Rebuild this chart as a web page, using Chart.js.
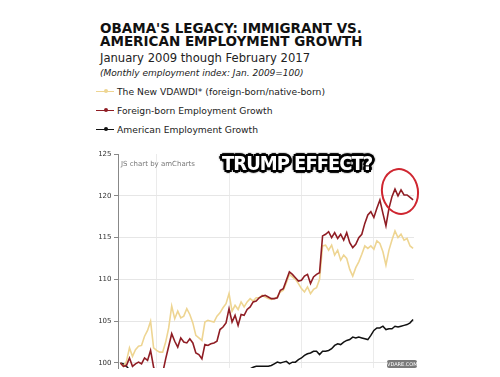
<!DOCTYPE html>
<html>
<head>
<meta charset="utf-8">
<script src="https://cdn.jsdelivr.net/npm/chart.js@4.4.1/dist/chart.umd.min.js"></script>
<style>
html, body { margin:0; padding:0; width:500px; height:377px; overflow:hidden; background:#fff; font-family:"DejaVu Sans", Verdana, sans-serif; }
.t { position:absolute; white-space:nowrap; line-height:1; }
#title1, #title2 { left:100px; font-size:13.5px; font-weight:bold; color:#111; }
#title1 { top:22px; }
#title2 { top:35px; }
#subtitle { left:100px; top:52.5px; font-size:11.6px; color:#222; }
#note { left:100px; top:68.5px; font-size:9px; font-style:italic; color:#222; }
#legend .item { position:absolute; left:96px; height:12px; }
#legend .mark { position:absolute; left:0; top:5px; width:18px; height:1.5px; }
#legend .dot { position:absolute; left:7.5px; top:3.5px; width:4px; height:4px; border-radius:50%; }
#legend .lab { position:absolute; left:21px; top:0; font-size:9.2px; color:#222; white-space:nowrap; line-height:12px; }
#chartWrap { position:absolute; left:0; top:140px; width:500px; height:260px; }
#credit { left:121px; top:161px; font-size:7px; color:#777; }
#trump { left:222px; top:153px; font-family:"DejaVu Sans Condensed", "DejaVu Sans", sans-serif; font-weight:bold; font-size:20px; color:#fff; letter-spacing:-1px;
  text-shadow: 2px 0 0 #000, -2px 0 0 #000, 0 2px 0 #000, 0 -2px 0 #000, 2px 2px 0 #000, -2px -2px 0 #000, 2px -2px 0 #000, -2px 2px 0 #000,
  3px 0 1px #000, -3px 0 1px #000, 0 3px 1px #000, 0 -3px 1px #000, 0 0 4px #333; }
#circle { position:absolute; left:381px; top:168px; width:34px; height:43px; border:2px solid #cf2630; border-radius:50%; transform:rotate(-8deg); }
#mark { position:absolute; left:387px; top:360px; width:30px; height:8px; background:#7a7a7a; border-radius:2px; color:#fff; font-size:5px; line-height:8px; text-align:center; }
</style>
</head>
<body>
<div class="t" id="title1">OBAMA'S LEGACY: IMMIGRANT VS.</div>
<div class="t" id="title2">AMERICAN EMPLOYMENT GROWTH</div>
<div class="t" id="subtitle">January 2009 though February 2017</div>
<div class="t" id="note">(Monthly employment index: Jan. 2009=100)</div>
<div id="legend"></div>
<div id="chartWrap"><canvas id="chart" width="500" height="260"></canvas></div>
<div class="t" id="credit">JS chart by amCharts</div>
<div class="t" id="trump">TRUMP EFFECT?</div>
<div id="circle"></div>
<div id="mark">VDARE.COM</div>
<script>
// monthly index, Jan 2009 .. Feb 2017 (Jan 2009 = 100)
var vdawdi = [
 100.0, 99.6, 100.2, 101.8, 100.8, 101.6, 102.0, 102.1, 103.2, 103.9, 105.0, 101.8,
 101.5, 101.3, 101.3, 102.5, 104.2, 106.8, 105.3, 106.2, 105.4, 105.6, 106.5, 105.8,
 104.8, 103.3, 103.0, 102.7, 104.9, 105.1, 105.0, 104.9, 105.6, 106.0, 106.6, 107.1,
 108.3, 106.2, 106.9, 106.4, 107.3, 106.7, 107.3, 107.7, 107.4, 107.8, 107.8, 108.1,
 107.9, 107.7, 107.6, 107.7, 107.9, 108.5, 108.7, 109.6, 110.6, 110.3, 110.0, 109.5,
 108.9, 108.5, 109.1, 108.3, 108.8, 109.0, 110.0, 114.0, 114.1, 113.5, 114.1, 112.9,
 113.5, 112.3, 112.9, 112.5, 111.2, 110.4, 111.4, 112.1, 113.0, 114.0, 113.7, 114.0,
 113.6, 114.6, 114.3, 113.3, 111.7, 113.5, 114.7, 115.8, 115.0, 115.4, 114.7, 114.9,
 114.0, 113.7
];
var foreignBorn = [
 100.0, 99.6, 99.7, 100.6, 99.6, 99.9, 100.1, 99.9, 100.6, 100.3, 101.5, 99.5,
 98.6, 98.2, 98.8, 100.5, 102.0, 103.5, 102.6, 101.9, 103.0, 102.5, 102.4, 102.9,
 102.4, 101.2, 101.0, 100.5, 102.2, 102.1, 102.3, 102.4, 102.6, 104.0, 104.3, 104.8,
 106.5, 104.9, 105.7, 104.5, 105.8, 105.7, 106.4, 106.7, 107.3, 107.4, 107.8, 108.0,
 108.1, 107.9, 107.7, 107.7, 107.8, 108.7, 108.9, 109.9, 110.9, 110.6, 110.2, 109.8,
 109.9, 110.4, 110.6, 109.5, 110.3, 110.6, 110.8, 115.2, 115.4, 115.7, 115.0, 115.6,
 114.9, 115.4, 114.7, 115.6, 114.4, 113.8, 114.2, 115.0, 115.4, 116.7, 117.7, 118.1,
 117.4, 118.5, 119.5, 117.9, 116.4, 118.5, 119.9, 120.8, 120.0, 120.7, 120.1, 120.1,
 119.8, 119.5
];
var american = [
 100.0, 99.9, 99.6, 99.2, 98.9, 98.6, 98.3, 98.1, 97.8, 97.7, 97.6, 97.3,
 97.0, 96.9, 96.9, 97.2, 97.4, 97.3, 97.2, 97.3, 97.3, 97.4, 97.2, 97.1,
 97.0, 97.1, 97.3, 97.4, 97.5, 97.6, 97.5, 97.6, 97.8, 98.0, 98.1, 98.0,
 98.3, 98.4, 98.6, 98.7, 98.8, 99.0, 99.1, 99.3, 99.5, 99.6, 99.6, 99.6,
 99.6, 99.6, 99.7, 99.9, 100.1, 100.0, 100.1, 100.2, 99.9, 100.1, 100.1, 100.4,
 100.6, 100.9, 101.1, 101.2, 101.4, 101.4, 101.0, 101.4, 101.4, 101.5, 101.7, 102.1,
 102.3, 102.2, 102.5, 102.7, 102.8, 103.1, 103.0, 103.1, 103.0, 102.9, 102.8, 103.3,
 103.9, 104.2, 104.2, 104.4, 104.0, 104.1, 104.1, 104.4, 104.3, 104.4, 104.5, 104.6,
 104.8, 105.2
];

var seriesNames = ['The New VDAWDI* (foreign-born/native-born)', 'Foreign-born Employment Growth', 'American Employment Growth'];
var seriesColors = ['#eed592', '#8f1d24', '#111111'];

var xTickMonths = [12, 36, 60, 84];
var xTickLabels = ['2010', '2012', '2014', '2016'];
var yTicks = [100, 105, 110, 115, 120, 125];

// legend
var legend = document.getElementById('legend');
var legendTops = [85.5, 104.8, 123.8];
seriesNames.forEach(function (name, i) {
  var item = document.createElement('div');
  item.className = 'item';
  item.style.top = legendTops[i] + 'px';
  item.innerHTML = '<div class="mark" style="background:' + seriesColors[i] + '"></div>' +
    '<div class="dot" style="background:' + seriesColors[i] + '"></div>' +
    '<div class="lab">' + name + '</div>';
  legend.appendChild(item);
});

function toPoints(arr) {
  return arr.map(function (v, i) { return { x: i, y: v }; });
}

var chart = new Chart(document.getElementById('chart'), {
  type: 'line',
  data: {
    datasets: [
      { label: seriesNames[1], data: toPoints(foreignBorn), borderColor: seriesColors[1], borderWidth: 1.6, order: 0 },
      { label: seriesNames[0], data: toPoints(vdawdi), borderColor: seriesColors[0], borderWidth: 1.6, order: 1 },
      { label: seriesNames[2], data: toPoints(american), borderColor: seriesColors[2], borderWidth: 1.5, order: 2 }
    ]
  },
  options: {
    responsive: false,
    animation: false,
    devicePixelRatio: 1,
    elements: { point: { radius: 0 }, line: { tension: 0 } },
    layout: { padding: { top: 14, right: 86, left: 0, bottom: 0 } },
    plugins: { legend: { display: false }, tooltip: { enabled: false } },
    scales: {
      x: {
        type: 'linear',
        min: -0.8,
        max: 97.3,
        afterBuildTicks: function (s) { s.ticks = xTickMonths.map(function (v) { return { value: v }; }); },
        afterFit: function (s) { s.height = 32; },
        ticks: {
          padding: 10,
          font: { size: 7, family: 'DejaVu Sans' },
          color: '#333',
          callback: function (v) { return xTickLabels[xTickMonths.indexOf(v)]; }
        },
        grid: { color: '#ebebeb', tickLength: 0 },
        border: { display: false }
      },
      y: {
        min: 99.4,
        max: 125,
        afterBuildTicks: function (s) { s.ticks = yTicks.map(function (v) { return { value: v }; }); },
        afterFit: function (s) { s.width = 118; },
        ticks: { padding: 2.5, font: { size: 7, family: 'DejaVu Sans' }, color: '#333' },
        grid: {
          color: function (ctx) { return ctx.tick && ctx.tick.value === 125 ? 'rgba(0,0,0,0)' : '#e6e6e6'; },
          tickColor: '#888',
          tickLength: 4
        },
        border: { color: '#888', width: 1 }
      }
    }
  }
});
</script>
</body>
</html>
